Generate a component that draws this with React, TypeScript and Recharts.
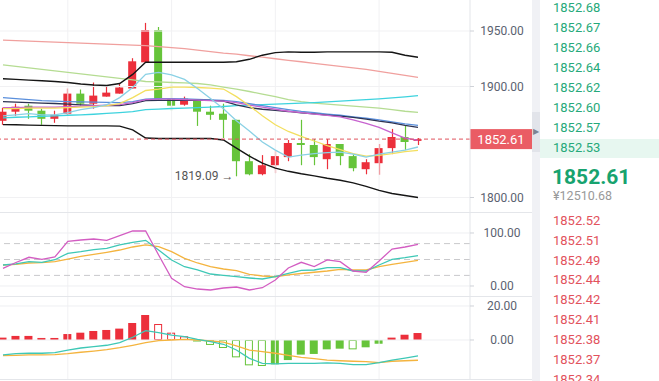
import React from 'react';
import { ComposedChart, Bar, Line, XAxis, YAxis, ReferenceLine, ReferenceDot } from 'recharts';

// candles
const opens = [1869.1, 1877.3, 1882.7, 1878.2, 1870.9, 1875.5, 1893.6, 1884.5, 1890.9, 1893.6, 1898.2, 1921.8, 1950.9, 1889.1, 1883.6, 1887.3, 1877.3, 1875.5, 1870.0, 1832.7, 1821.0, 1829.1, 1836.4, 1849.1, 1847.3, 1834.5, 1848.2, 1837.3, 1825.5, 1830.9, 1844.5, 1854.5, 1851.0];
const closes = [1877.3, 1881.8, 1878.2, 1870.9, 1874.5, 1893.6, 1884.5, 1891.8, 1894.5, 1899.1, 1922.7, 1950.9, 1888.2, 1882.7, 1889.1, 1877.3, 1874.5, 1870.0, 1832.7, 1820.9, 1829.1, 1837.3, 1849.1, 1847.3, 1836.4, 1848.2, 1837.3, 1826.4, 1831.8, 1844.5, 1854.5, 1850.0, 1852.61];
const highs = [1880.9, 1884.5, 1884.5, 1880.0, 1878.2, 1898.2, 1897.3, 1903.6, 1900.9, 1902.7, 1925.5, 1957.3, 1953.6, 1901.8, 1890.9, 1887.3, 1882.7, 1884.5, 1870.0, 1839.1, 1838.2, 1841.8, 1851.8, 1870.0, 1852.7, 1852.7, 1848.2, 1839.1, 1834.5, 1848.2, 1861.8, 1864.5, 1853.6];
const lows = [1865.5, 1873.6, 1870.9, 1865.5, 1867.3, 1873.6, 1882.7, 1880.0, 1890.9, 1893.6, 1898.2, 1921.8, 1888.2, 1878.2, 1882.7, 1864.5, 1870.0, 1853.6, 1819.09, 1820.0, 1820.0, 1821.8, 1832.7, 1829.1, 1829.1, 1825.5, 1829.1, 1823.6, 1820.9, 1820.5, 1839.1, 1842.7, 1847.3];

// overlays
const maPink = [1941.8, 1941.4, 1940.9, 1940.5, 1940.0, 1939.5, 1939.1, 1938.6, 1938.2, 1937.7, 1937.3, 1936.8, 1935.9, 1935.0, 1934.1, 1932.7, 1931.4, 1930.0, 1929.1, 1927.7, 1926.4, 1925.0, 1923.6, 1922.3, 1920.9, 1919.5, 1918.2, 1916.8, 1915.5, 1913.6, 1911.8, 1910.0, 1908.2];
const maLime = [1919.5, 1918.2, 1916.8, 1915.5, 1914.1, 1912.7, 1911.4, 1910.0, 1908.6, 1907.3, 1905.9, 1904.5, 1904.1, 1903.6, 1903.2, 1902.7, 1901.4, 1899.5, 1897.7, 1895.5, 1893.2, 1890.9, 1888.2, 1886.4, 1885.0, 1884.1, 1883.2, 1882.3, 1881.4, 1880.5, 1879.1, 1877.7, 1876.6];
const bollUp = [1907.0, 1906.4, 1905.7, 1905.2, 1904.5, 1903.6, 1902.3, 1901.4, 1900.9, 1902.7, 1910.9, 1921.8, 1921.8, 1921.8, 1921.8, 1921.8, 1921.8, 1921.8, 1922.3, 1924.5, 1928.2, 1930.5, 1931.2, 1930.9, 1930.9, 1931.2, 1931.2, 1931.2, 1931.2, 1931.2, 1930.9, 1928.2, 1926.4];
const bollMid = [1886.4, 1885.9, 1885.5, 1885.1, 1884.7, 1884.1, 1883.5, 1882.9, 1882.7, 1882.8, 1884.5, 1887.3, 1887.5, 1887.5, 1887.5, 1887.5, 1887.5, 1886.8, 1883.5, 1880.9, 1879.5, 1878.5, 1877.5, 1876.2, 1875.3, 1874.3, 1873.4, 1872.2, 1870.6, 1868.8, 1867.3, 1865.0, 1863.2];
const bollLow = [1865.7, 1865.5, 1865.2, 1865.0, 1864.8, 1864.5, 1864.5, 1864.5, 1864.5, 1864.3, 1860.9, 1853.6, 1853.2, 1853.2, 1853.2, 1853.2, 1853.2, 1851.8, 1844.5, 1837.3, 1830.9, 1826.4, 1823.6, 1821.4, 1819.5, 1817.3, 1815.5, 1813.2, 1810.0, 1806.4, 1803.6, 1801.8, 1800.0];
const maBlue = [1890.0, 1889.1, 1888.2, 1887.3, 1886.8, 1886.4, 1886.1, 1885.9, 1885.7, 1885.5, 1886.4, 1888.6, 1889.1, 1889.1, 1888.8, 1888.4, 1887.9, 1887.5, 1886.4, 1884.5, 1882.7, 1880.9, 1879.1, 1877.5, 1876.4, 1875.2, 1874.1, 1872.7, 1871.4, 1870.0, 1868.2, 1866.4, 1865.0];
const maCyan = [1871.8, 1872.3, 1872.7, 1873.2, 1873.6, 1874.1, 1874.5, 1875.0, 1875.7, 1876.4, 1877.3, 1879.1, 1879.7, 1880.2, 1880.6, 1880.9, 1881.4, 1882.0, 1882.7, 1883.2, 1883.6, 1884.1, 1884.5, 1885.0, 1885.5, 1886.1, 1886.8, 1887.5, 1888.2, 1888.9, 1889.7, 1890.7, 1891.8];
const maPurple = [1880.9, 1880.9, 1881.4, 1881.4, 1881.4, 1881.8, 1882.3, 1882.7, 1883.2, 1883.6, 1885.5, 1888.2, 1888.6, 1888.6, 1888.2, 1887.7, 1887.3, 1886.8, 1885.5, 1883.2, 1881.4, 1879.5, 1877.7, 1876.4, 1875.2, 1873.9, 1872.7, 1870.0, 1866.8, 1863.2, 1858.2, 1853.6, 1851.4];
const maYellow = [1880.0, 1880.0, 1880.5, 1880.5, 1880.6, 1880.9, 1881.4, 1881.8, 1882.7, 1884.5, 1890.0, 1896.4, 1897.7, 1899.5, 1899.5, 1899.1, 1898.6, 1897.7, 1890.9, 1882.7, 1873.6, 1865.5, 1859.5, 1855.0, 1850.9, 1846.8, 1843.2, 1839.5, 1837.3, 1837.9, 1839.5, 1841.4, 1842.5];
const maSky = [1873.6, 1874.5, 1875.5, 1874.5, 1874.5, 1876.4, 1879.1, 1880.9, 1883.6, 1890.0, 1899.1, 1910.9, 1912.7, 1910.5, 1906.4, 1898.2, 1889.1, 1880.0, 1869.1, 1860.0, 1850.0, 1842.7, 1836.4, 1838.2, 1839.5, 1840.5, 1840.9, 1839.1, 1836.4, 1839.1, 1840.9, 1842.7, 1845.5];

// KDJ
const kLine = [39.6, 41.9, 45.9, 44.7, 49.6, 61.7, 64.7, 68.5, 71.1, 77.4, 82.5, 86.2, 67.9, 49.1, 36.4, 30.2, 22.6, 20.2, 17.5, 15.1, 13.2, 17.5, 24.0, 29.6, 30.2, 34.5, 34.5, 28.3, 28.3, 39.6, 50.4, 53.4, 57.2];
const dLine = [39.6, 40.9, 43.4, 44.0, 45.9, 50.9, 56.0, 59.8, 63.6, 67.9, 73.6, 77.4, 74.2, 64.7, 52.3, 43.4, 36.4, 32.1, 28.9, 22.1, 18.9, 17.5, 20.8, 23.6, 25.9, 28.3, 31.5, 30.2, 30.2, 36.4, 40.9, 44.7, 48.5];
const jLine = [33.4, 44.3, 54.2, 50.4, 54.7, 84.3, 86.8, 88.7, 86.2, 94.9, 103.8, 103.8, 58.5, 14.5, -1.3, -5.7, -7.5, -3.8, -1.9, -7.5, -3.2, 11.3, 34.0, 44.7, 36.8, 49.1, 45.9, 28.3, 25.9, 47.2, 69.8, 73.6, 78.7];

// MACD
const macdHist = [1.4, 2.4, 2.4, 1.2, 1.2, 3.5, 4.3, 5.3, 5.9, 6.7, 10.0, 14.7, 9.4, 4.3, 2.2, -0.8, -2.9, -4.7, -10.2, -14.9, -15.3, -14.3, -11.8, -8.6, -8.2, -5.5, -5.1, -5.5, -4.3, -2.2, 1.4, 3.1, 4.1];
const difLine = [-8.8, -8.0, -7.8, -7.8, -7.4, -5.9, -4.7, -3.9, -3.1, -1.6, 1.6, 5.5, 4.3, 2.9, 2.0, 0.4, -1.0, -2.5, -5.9, -10.8, -13.7, -14.1, -13.7, -13.7, -13.7, -13.5, -13.7, -14.5, -14.5, -13.3, -11.8, -10.6, -9.4];
const deaLine = [-9.2, -9.0, -8.8, -8.8, -8.6, -8.0, -7.2, -6.5, -5.7, -4.5, -3.1, -1.6, -0.4, 0.0, 0.4, 0.0, -0.6, -1.2, -3.5, -5.9, -6.9, -7.8, -9.0, -10.2, -11.0, -11.8, -12.2, -12.5, -12.7, -13.3, -12.5, -12.2, -11.9];

const priceTicks = [1800, 1900, 1950];
const kdjTicks = [0, 100];
const kdjLevels = [20, 50, 80];
const macdTicks = [0, 20];
const gridIdx = [5, 13, 21, 29];
const lastPrice = 1852.61;
const lowMark = { idx: 18, price: 1819.09 };

// order book
const asks = ['1852.68', '1852.67', '1852.66', '1852.64', '1852.62', '1852.60', '1852.57', '1852.53'];
const bids = ['1852.52', '1852.51', '1852.49', '1852.44', '1852.42', '1852.41', '1852.38', '1852.37', '1852.34'];
const cnyPrice = '12510.68';

const RED = '#ec2f3b';
const GREEN = '#66c43a';
const FONT = 'Roboto, "Noto Sans", sans-serif';
const X_DOMAIN: [number, number] = [-0.23, 36.01];

const rows = opens.map((o, i) => ({
  idx: i, o, c: closes[i], h: highs[i], l: lows[i], range: [lows[i], highs[i]],
  pink: maPink[i], lime: maLime[i], up: bollUp[i], mid: bollMid[i], low: bollLow[i],
  blue: maBlue[i], cyan: maCyan[i], purple: maPurple[i], yellow: maYellow[i], sky: maSky[i],
  k: kLine[i], d: dLine[i], j: jLine[i],
  hist: macdHist[i], prevHist: i > 0 ? macdHist[i - 1] : macdHist[i], dif: difLine[i], dea: deaLine[i],
}));

const Candle = (props: any) => {
  const { x, y, width, height, payload } = props;
  const top0 = Math.min(y, y + height);
  const hh = Math.abs(height);
  const { o, c, h, l } = payload;
  const k = hh / (h - l);
  const yOf = (v: number) => top0 + (h - v) * k;
  const color = c >= o ? RED : GREEN;
  const bt = yOf(Math.max(o, c));
  const bb = yOf(Math.min(o, c));
  const cx = Math.round(x + width / 2) + 0.5;
  return (
    <g>
      <line x1={cx} x2={cx} y1={top0} y2={top0 + hh} stroke={color} strokeWidth={1.2} />
      <rect x={x} y={bt} width={width} height={Math.max(1, bb - bt)} fill={color} />
    </g>
  );
};

const MacdBar = (props: any) => {
  const { x, y, width, height, payload } = props;
  const top = Math.min(y, y + height);
  const hh = Math.max(1, Math.abs(height));
  const color = payload.hist >= 0 ? RED : GREEN;
  const hollow = payload.hist < payload.prevHist;
  if (hollow) {
    return <rect x={x + 0.5} y={top + 0.5} width={width - 1} height={Math.max(0.5, hh - 1)} fill="#fff" stroke={color} strokeWidth={1} />;
  }
  return <rect x={x} y={top} width={width} height={hh} fill={color} />;
};

const AxisTick = (props: any) => {
  const { x, y, payload } = props;
  return (
    <text x={x + 26} y={y} dy={4} textAnchor="middle" fill="#5b6270" fontSize={12} fontFamily={FONT}>
      {Number(payload.value).toFixed(2)}
    </text>
  );
};

const PriceTag = (props: any) => {
  const { viewBox } = props;
  const x = viewBox.x + viewBox.width;
  const y = viewBox.y;
  return (
    <g>
      <rect x={x} y={y - 10} width={62} height={20} fill="#ea5c64" />
      <text x={x + 31} y={y + 4.5} textAnchor="middle" fill="#fff" fontSize={13} fontFamily={FONT}>
        {lastPrice.toFixed(2)}
      </text>
    </g>
  );
};

const LowTag = (props: any) => {
  const { viewBox } = props;
  return (
    <text x={viewBox.x - 3} y={viewBox.y + 4} textAnchor="end" fill="#555" fontSize={12} fontFamily={FONT}>
      {lowMark.price.toFixed(2)} →
    </text>
  );
};

const yAxisProps = {
  orientation: 'right' as const,
  width: 65,
  axisLine: { stroke: '#e3e5e9' },
  tickLine: { stroke: '#cfd2d8' },
  tickSize: 4,
  interval: 0 as const,
  allowDataOverflow: true,
  tick: (p: any) => <AxisTick {...p} />,
};

const vGrid = () => gridIdx.map((g) => <ReferenceLine key={`v${g}`} x={g} stroke="#f1f1f3" />);

export default function App() {
  const line = (key: string, color: string, w = 1.3) => (
    <Line key={key} dataKey={key} stroke={color} strokeWidth={w} dot={false} activeDot={false} isAnimationActive={false} type="linear" />
  );
  return (
    <div style={{ position: 'absolute', left: 0, top: 0, width: 659, height: 381, background: '#fff', overflow: 'hidden', fontFamily: FONT }}>
      {/* main candle panel */}
      <div style={{ position: 'absolute', left: 0, top: 0 }}>
        <ComposedChart width={535} height={212} data={rows} margin={{ top: 0, right: 0, bottom: 0, left: 0 }}>
          <XAxis dataKey="idx" type="number" domain={X_DOMAIN} hide allowDataOverflow />
          <YAxis {...yAxisProps} domain={[1786.94, 1977.93]} ticks={priceTicks} />
          {vGrid()}
          {priceTicks.map((t) => <ReferenceLine key={`h${t}`} y={t} stroke="#f1f1f3" />)}
          {line('pink', '#f0a09e')}
          {line('lime', '#b5dc92')}
          {line('cyan', '#3ed3de')}
          {line('blue', '#5a8fdc')}
          {line('mid', '#2d3352')}
          {line('purple', '#c763cf')}
          {line('yellow', '#f3df5f')}
          {line('sky', '#8ad1e5')}
          {line('up', '#151515', 1.4)}
          {line('low', '#151515', 1.4)}
          <Bar dataKey="range" barSize={8} shape={(p: any) => <Candle {...p} />} isAnimationActive={false} />
          <ReferenceLine y={lastPrice} stroke="#e0535d" strokeDasharray="4 3" label={<PriceTag />} />
          <ReferenceDot x={lowMark.idx} y={lowMark.price} r={0} fill="none" stroke="none" label={<LowTag />} />
        </ComposedChart>
      </div>

      {/* KDJ panel */}
      <div style={{ position: 'absolute', left: 0, top: 212 }}>
        <ComposedChart width={535} height={84} data={rows} margin={{ top: 0, right: 0, bottom: 0, left: 0 }}>
          <XAxis dataKey="idx" type="number" domain={X_DOMAIN} hide allowDataOverflow />
          <YAxis {...yAxisProps} domain={[-18.87, 139.62]} ticks={kdjTicks} />
          {vGrid()}
          {kdjTicks.map((t) => <ReferenceLine key={`h${t}`} y={t} stroke="#eeeff2" />)}
          {kdjLevels.map((t) => <ReferenceLine key={`l${t}`} y={t} stroke="#c9c9cc" strokeDasharray="6 4" />)}
          {line('d', '#f4b43f')}
          {line('k', '#3ec8b6')}
          {line('j', '#d35dc2')}
        </ComposedChart>
      </div>

      {/* MACD panel */}
      <div style={{ position: 'absolute', left: 0, top: 296 }}>
        <ComposedChart width={535} height={83} data={rows} margin={{ top: 0, right: 0, bottom: 0, left: 0 }}>
          <XAxis dataKey="idx" type="number" domain={X_DOMAIN} hide allowDataOverflow />
          <YAxis {...yAxisProps} domain={[-22.94, 25.88]} ticks={macdTicks} />
          {vGrid()}
          {macdTicks.map((t) => <ReferenceLine key={`h${t}`} y={t} stroke="#eeeff2" />)}
          <Bar dataKey="hist" barSize={8} shape={(p: any) => <MacdBar {...p} />} isAnimationActive={false} />
          {line('dea', '#f4b43f')}
          {line('dif', '#3ec8b6')}
        </ComposedChart>
      </div>

      {/* panel separators */}
      {[212, 296, 379].map((t) => (
        <div key={t} style={{ position: 'absolute', left: 0, top: t, width: 532, height: 1, background: '#e4e6ea' }} />
      ))}

      {/* splitter */}
      <div style={{ position: 'absolute', left: 532, top: 0, width: 8, height: 381, background: '#f0f1f5' }} />
      <div style={{ position: 'absolute', left: 532, top: 112, width: 8, height: 40, background: '#e2e4ea', color: '#7d8391', fontSize: 8, lineHeight: '40px', textAlign: 'center' }}>▶</div>

      {/* order book */}
      <div style={{ position: 'absolute', left: 540, top: 139, width: 119, height: 19, background: '#e7f7f0' }} />
      {asks.map((a, i) => (
        <div key={a} style={{ position: 'absolute', left: 553, top: i * 20 - 1.7, height: 20, lineHeight: '20px', fontSize: 13, color: '#25a97a' }}>{a}</div>
      ))}
      <div style={{ position: 'absolute', left: 552, top: 164, lineHeight: '26px', fontSize: 21, fontWeight: 700, color: '#17a36f' }}>{lastPrice.toFixed(2)}</div>
      <div style={{ position: 'absolute', left: 553, top: 187, lineHeight: '18px', fontSize: 12.5, color: '#999' }}>¥{cnyPrice}</div>
      {bids.map((b, i) => (
        <div key={b} style={{ position: 'absolute', left: 553, top: 210.7 + i * 19.9, height: 20, lineHeight: '20px', fontSize: 13, color: '#e2525c' }}>{b}</div>
      ))}
    </div>
  );
}
